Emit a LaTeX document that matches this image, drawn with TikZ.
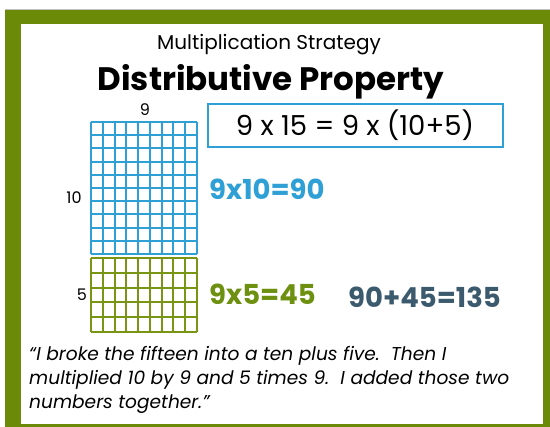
\documentclass[tikz,border=0pt]{standalone}
\usepackage{fontspec}
\setmainfont{Poppins}
\definecolor{frame}{RGB}{107,138,8}
\definecolor{gblue}{RGB}{46,160,214}
\definecolor{ggreen}{RGB}{120,150,20}
\definecolor{tgreen}{RGB}{110,144,16}
\definecolor{slate}{RGB}{60,90,110}
\begin{document}
\begin{tikzpicture}[x=1pt,y=-1pt,
  lbl/.style={inner sep=0pt,anchor=base},
  gridline/.style={line width=2pt}]
\useasboundingbox (0,0) rectangle (550,427);
\fill[white] (0,0) rectangle (550,427);
\fill[gray!50] (5,9) rectangle (550,10);
\fill[frame] (5,10) rectangle (550,427);
\fill[white] (21,24) rectangle (543,424);
% titles
\node[lbl] (sub) at (269,50) {\fontsize{20}{24}\selectfont Multiplication Strategy};
\node[lbl] (title) at (271,91) {\fontsize{32.5}{40}\selectfont\bfseries Distributive Property};
% blue grid
\foreach \i in {0,...,9} \draw[gblue,gridline] ({91+\i*106/9},122) -- ({91+\i*106/9},254);
\foreach \j in {0,...,10} \draw[gblue,gridline] (91,{122+\j*13.2}) -- (197,{122+\j*13.2});
% green grid
\foreach \i in {0,...,9} \draw[ggreen,gridline] ({91+\i*106/9},258) -- ({91+\i*106/9},332);
\foreach \j in {0,...,5} \draw[ggreen,gridline] (91,{258+\j*14.8}) -- (197,{258+\j*14.8});
% labels
\node[lbl] (nine) at (145,116) {\fontsize{16}{18}\selectfont 9};
\node[lbl] (ten) at (74,204) {\fontsize{16}{18}\selectfont 10};
\node[lbl] (five) at (82,301) {\fontsize{16}{18}\selectfont 5};
% equation box
\draw[gblue,line width=1.5pt] (208,104) rectangle (503,147);
\node[lbl] (eq) at (355,136) {\fontsize{27.5}{32}\selectfont 9 x 15 = 9 x (10+5)};
\node[lbl,anchor=base west,text=gblue] (p1) at (209,200) {\fontsize{27.5}{32}\selectfont\bfseries 9x10=90};
\node[lbl,anchor=base west,text=tgreen] (p2) at (209,305) {\fontsize{27.5}{32}\selectfont\bfseries 9x5=45};
\node[lbl,anchor=base west,text=slate] (sum) at (348,308) {\fontsize{27.5}{32}\selectfont\bfseries 90+45=135};
% quote
\node[lbl,anchor=base west] (q1) at (29,361) {\fontsize{18.6}{23}\selectfont\itshape ``I broke the fifteen into a ten plus five.\ \ Then I};
\node[lbl,anchor=base west] (q2) at (29,385) {\fontsize{18.6}{23}\selectfont\itshape multiplied 10 by 9 and 5 times 9.\ \ I added those two};
\node[lbl,anchor=base west] (q3) at (29,409) {\fontsize{18.6}{23}\selectfont\itshape numbers together.''};
\end{tikzpicture}
\end{document}
